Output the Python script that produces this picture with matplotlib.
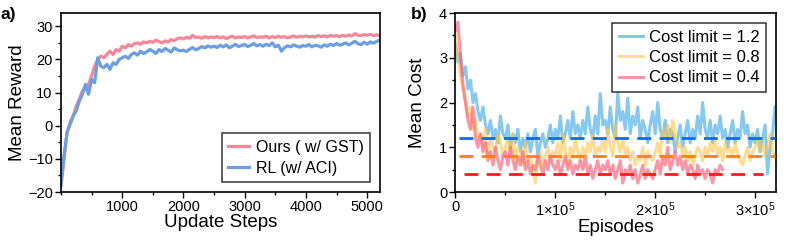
import matplotlib
matplotlib.use("Agg")
import matplotlib.pyplot as plt
from matplotlib.ticker import MultipleLocator

plt.rcParams['font.family'] = ['Liberation Sans', 'DejaVu Sans']
plt.rcParams['mathtext.fontset'] = 'custom'
plt.rcParams['mathtext.rm'] = 'Liberation Sans'
plt.rcParams['mathtext.it'] = 'Liberation Sans'

# ---------------- Panel a data ----------------
steps = list(range(0, 5201, 50))
ours_reward = [
    -18, -10, -2, 1, 3, 6, 8, 10.5, 11, 12.5,
    15, 18, 20, 21, 20.5, 21.5, 22.5, 21.5, 23, 22.5,
    24, 23.5, 24.5, 24, 24.8, 25, 24.6, 25.3, 25, 25.5,
    25.2, 25.8, 25.4, 25, 25.6, 25.3, 26, 25.7, 26.3, 26.5,
    26.2, 26.7, 26.4, 27.3, 26.6, 26.8, 26.4, 26.9, 26.5, 26.8,
    26.6, 26.9, 26.5, 26.8, 26.3, 26.7, 27, 26.5, 26.8, 26.6,
    26.9, 26.5, 26.8, 27.1, 26.6, 26.8, 26.7, 27.0, 26.5, 26.9,
    26.6, 27.0, 26.7, 26.9, 26.5, 26.8, 27.1, 26.7, 27.0, 26.8,
    27.1, 26.8, 27.0, 26.7, 27.2, 26.9, 27.1, 26.8, 27.3, 27.0,
    27.2, 26.9, 27.3, 27.0, 27.4, 27.1, 27.8, 27.3, 27.2, 27.5,
    27.3, 27.6, 27.2, 27.4, 27.3,
]
rl_reward = [
    -18, -9, -2, 0.5, 3, 4.5, 7.5, 9.5, 12.5, 9.5,
    14, 13, 20.5, 18, 17.5, 18.5, 17, 19, 18.5, 20,
    20.5, 21, 20.3, 21.5, 22, 21.3, 22.5, 21.8, 22.3, 23,
    22.5, 21.8, 23, 22.4, 23.3, 22.8, 22.2, 23.5, 22.9, 22.6,
    22.8, 22.4, 23.1, 23.6, 22.9, 23.3, 23.9, 23.5, 24.1, 23.7,
    24.0, 23.6, 24.3, 23.8, 24.4, 23.5, 24.0, 24.6, 23.9, 24.2,
    24.5, 23.9, 24.3, 24.8, 24.1, 24.5, 24.0, 24.6, 24.2, 25.0,
    23.8, 24.3, 22.5, 23.6, 24.1, 23.8, 24.4, 24.0, 23.7, 24.2,
    24.0, 24.5, 23.8, 24.3, 24.1, 23.7, 24.4, 24.0, 24.6, 24.2,
    24.8, 24.3, 24.6, 25.0, 24.4, 24.9, 25.5, 24.7, 24.5, 25.2,
    24.6, 25.3, 24.9, 25.4, 25.8,
]
a_xticks = [1000, 2000, 3000, 4000, 5000]
a_yticks = [-20, -10, 0, 10, 20, 30]
a_yticklabels = ['\u221220', '\u221210', '0', '10', '20', '30']

# ---------------- Panel b data ----------------
episodes = list(range(0, 320001, 2500))
cost_12 = [
    3.3, 2.9, 3.1, 2.6, 2.8, 2.3, 2.5, 2.0, 2.2, 1.8,
    1.6, 1.9, 1.5, 1.3, 1.6, 1.2, 1.4, 1.1, 1.7, 1.3,
    1.2, 1.5, 1.0, 1.3, 1.1, 1.4, 0.9, 1.2, 1.0, 1.3,
    0.9, 1.2, 1.4, 0.8, 1.1, 1.3, 1.0, 1.2, 1.5, 1.1,
    1.4, 1.2, 1.7, 1.1, 1.3, 1.6, 1.2, 1.8, 1.3, 1.5,
    1.2, 1.6, 1.3, 1.9, 1.4, 1.2, 1.7, 1.3, 2.2, 1.5,
    1.6, 1.3, 1.9, 1.4, 1.2, 2.2, 1.6, 1.8, 1.4, 2.1,
    1.3, 1.7, 1.5, 1.9, 1.2, 1.6, 1.4, 1.1, 1.5, 1.8,
    1.3, 2.0, 1.4, 1.2, 1.6, 1.1, 1.4, 1.3, 0.9, 1.2,
    1.5, 1.0, 1.3, 1.6, 1.1, 1.4, 1.2, 1.7, 1.3, 2.0,
    1.4, 1.2, 1.6, 1.1, 1.5, 1.3, 1.7, 1.2, 1.4, 1.0,
    1.3, 1.6, 1.1, 1.4, 1.2, 1.8, 1.3, 1.5, 1.0, 1.3,
    1.1, 1.4, 0.9, 1.2, 1.5, 0.4, 1.0, 1.3,
    1.9,
]
cost_08 = [
    3.5, 3.0, 2.6, 2.3, 2.0, 1.7, 1.9, 1.4, 1.6, 1.2,
    1.3, 1.0, 1.4, 0.8, 1.2, 1.0, 0.9, 1.3, 1.1, 0.8,
    1.0, 1.2, 0.8, 1.3, 0.7, 1.0, 0.9, 0.6, 1.1, 0.7,
    0.8, 0.5, 0.2, 0.7, 0.9, 0.6, 0.8, 1.0, 0.7, 0.9,
    0.8, 1.1, 0.7, 1.3, 0.9, 0.6, 1.0, 0.8, 1.2, 0.9,
    0.7, 1.0, 0.8, 1.1, 0.9, 1.3, 0.8, 1.0, 0.9, 1.2,
    0.9, 1.4, 1.0, 0.8, 1.5, 1.1, 0.9, 1.2, 0.8, 1.0,
    0.7, 0.9, 0.6, 0.8, 0.7, 1.0, 0.6, 0.9, 0.8, 0.7,
    0.9, 1.1, 0.8, 1.4, 1.2, 1.5, 1.1, 1.6, 1.3, 1.0,
    1.1, 0.8, 1.0, 0.7, 0.9, 0.6, 0.8, 1.0, 0.9, 0.7,
    1.0, 0.8, 1.1, 0.9, 1.2, 0.8, 1.0, 0.7, 1.1, 0.9,
    1.0, 0.8, 1.1, 0.9, 0.7, 0.6, 0.8, 1.0, 0.7, 0.9,
    1.0, 1.2, 0.9, 1.1, 0.8, 1.0, 1.3, 0.9,
    0.8,
]
episodes_04 = list(range(0, 267501, 2500))
cost_04 = [
    3.6, 3.8, 3.0, 2.4, 2.0, 1.6, 1.4, 1.9, 1.2, 1.0,
    1.3, 0.9, 1.1, 0.7, 0.9, 0.6, 1.0, 0.7, 0.5, 0.8,
    0.9, 0.6, 1.0, 0.7, 0.5, 0.8, 0.6, 0.9, 0.5, 0.7,
    0.4, 0.6, 0.5, 0.8, 0.6, 0.4, 0.7, 0.5, 0.8, 0.6,
    0.5, 0.7, 0.4, 0.6, 0.8, 0.5, 0.7, 0.4, 0.6, 0.5,
    0.7, 0.5, 0.8, 0.4, 0.6, 0.3, 0.5, 0.7, 0.4, 0.6,
    0.5, 0.7, 0.4, 0.6, 0.3, 0.5, 0.7, 0.2, 0.5, 0.4,
    0.6, 0.3, 0.5, 0.2, 0.4, 0.6, 0.3, 0.5, 0.4, 0.3,
    0.5, 0.7, 0.4, 0.8, 0.6, 1.0, 0.5, 0.7, 0.9, 0.6,
    0.8, 0.5, 0.7, 0.4, 0.6, 0.5, 0.3, 0.6, 0.4, 0.5,
    0.3, 0.5, 0.4, 0.2, 0.5, 0.4, 0.6, 0.5,
]
cost_limits = [1.2, 0.8, 0.4]
limit_x_start = [4000, 4000, 9000]
limit_x_end = [320000, 320000, 308000]
b_xticks = [0, 100000, 200000, 300000]
b_xticklabels = ['0', r'$1{\times}10^5$', r'$2{\times}10^5$', r'$3{\times}10^5$']
b_yticks = [0, 1, 2, 3, 4]

# ---------------- Figure ----------------
fig = plt.figure(figsize=(7.97, 2.42), dpi=100)
axa = fig.add_axes([0.0765, 0.2066, 0.4003, 0.7394])
axb = fig.add_axes([0.5715, 0.2066, 0.4022, 0.7394])

for ax in (axa, axb):
    for s in ax.spines.values():
        s.set_linewidth(1.2)
    ax.tick_params(which='major', direction='out', length=4, width=1.0,
                   labelsize=10.5, pad=2)
    ax.tick_params(which='minor', direction='out', length=2.5, width=1.0)

# Panel a
axa.plot(steps, rl_reward, color='#6B9EE3', lw=2.3, label='RL (w/ ACI)', zorder=2)
axa.plot(steps, ours_reward, color='#F7869A', lw=2.3, label='Ours ( w/ GST)', zorder=1)
axa.set_xlim(0, 5210)
axa.set_ylim(-20, 34)
axa.set_xticks(a_xticks)
axa.set_yticks(a_yticks)
axa.set_yticklabels(a_yticklabels)
axa.xaxis.set_minor_locator(MultipleLocator(500))
axa.yaxis.set_minor_locator(MultipleLocator(5))
axa.set_xlabel('Update Steps', fontsize=13.5, labelpad=0)
axa.set_ylabel('Mean Reward', fontsize=13.5, labelpad=1)
h, l = axa.get_legend_handles_labels()
leg = axa.legend([h[1], h[0]], [l[1], l[0]], loc='lower right', fontsize=11.5,
                 frameon=True, fancybox=False, edgecolor='black',
                 handlelength=1.3, borderaxespad=0.6, borderpad=0.4,
                 labelspacing=0.4, handletextpad=0.45)
leg.get_frame().set_linewidth(1.1)

# Panel b
axb.plot(episodes, cost_12, color='#5DB6EA', lw=2.2, alpha=0.75, label='Cost limit = 1.2')
axb.plot(episodes, cost_08, color='#FFC54A', lw=2.2, alpha=0.6, label='Cost limit = 0.8')
axb.plot(episodes_04, cost_04, color='#FF5C74', lw=2.2, alpha=0.65, label='Cost limit = 0.4')
dash_colors = ['#1469E8', '#FF8010', '#FF1818']
for c, xs, xe, dc in zip(cost_limits, limit_x_start, limit_x_end, dash_colors):
    axb.plot([xs, xe], [c, c], color=dc, lw=2.0, dashes=(5, 3), zorder=5)
axb.set_xlim(0, 321000)
axb.set_ylim(0, 4)
axb.set_xticks(b_xticks)
axb.set_xticklabels(b_xticklabels)
axb.set_yticks(b_yticks)
axb.xaxis.set_minor_locator(MultipleLocator(50000))
axb.yaxis.set_minor_locator(MultipleLocator(0.5))
axb.set_xlabel('Episodes', fontsize=13.5, labelpad=0)
axb.set_ylabel('Mean Cost', fontsize=13.5, labelpad=9)
legb = axb.legend(loc='upper right', fontsize=12, frameon=True, fancybox=False,
                  edgecolor='black', handlelength=1.45, borderaxespad=0.6,
                  borderpad=0.4, labelspacing=0.32, handletextpad=0.35)
legb.get_frame().set_linewidth(1.1)

fig.text(0.001, 0.942, 'a)', fontsize=12.5, fontweight='bold', va='center', ha='left')
fig.text(0.515, 0.942, 'b)', fontsize=12.5, fontweight='bold', va='center', ha='left')

fig.savefig('out.png', dpi=100)
